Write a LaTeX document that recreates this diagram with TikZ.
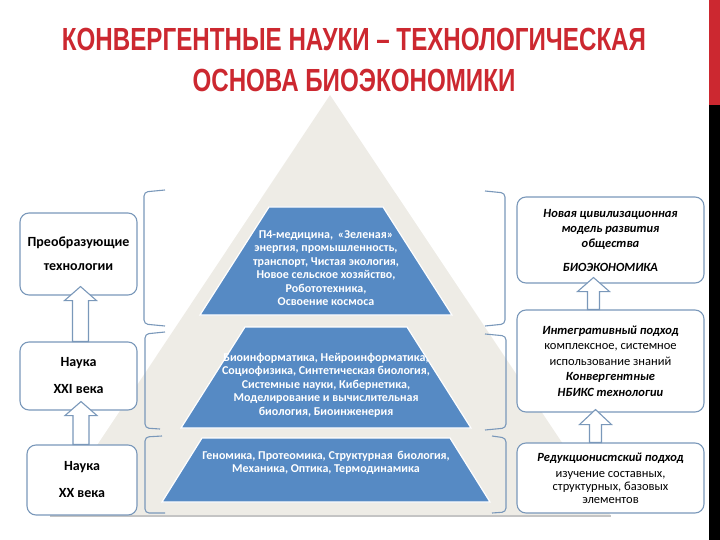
\documentclass[tikz,border=0pt]{standalone}
\usepackage{fontspec}
\setmainfont{Carlito}
\newfontfamily\titlefont[FakeStretch=0.755]{Liberation Sans}
\usetikzlibrary{positioning,calc}
\definecolor{titlered}{RGB}{204,40,48}
\definecolor{pyrblue}{RGB}{86,138,196}
\definecolor{boxline}{RGB}{122,152,186}
\definecolor{bggray}{RGB}{238,236,230}
\definecolor{shadowgray}{RGB}{196,196,196}

\begin{document}
\begin{tikzpicture}[x=1pt, y=-1pt]
  \tikzstyle{title}=[text=titlered, font=\titlefont\bfseries\fontsize{32}{38}\selectfont, anchor=base, inner sep=0pt]
  \tikzstyle{box}=[rectangle, draw=boxline, line width=1.1pt, rounded corners=9pt, fill=white, align=center, inner sep=0pt]
  \tikzstyle{lefttext}=[font=\bfseries\fontsize{14}{14}\selectfont]
  \tikzstyle{righttext}=[font=\fontsize{12.5}{15.5}\selectfont]
  \tikzstyle{layer}=[fill=pyrblue, draw=white, line width=1.2pt]
  \tikzstyle{layertext}=[text=white, align=center, font=\bfseries\fontsize{12}{13.5}\selectfont]
  \tikzstyle{brace}=[draw=boxline, line width=1.1pt, rounded corners=4pt]
  \tikzstyle{uparrow}=[draw=boxline, line width=1.1pt, fill=white, line join=miter]
  \useasboundingbox (0,0) rectangle (720,540);

  % side strip
  \fill[titlered] (709,0) rectangle (720,105);
  \fill[black] (709,105) rectangle (720,540);

  % title
  \node[title] (title1) at (354,51) {КОНВЕРГЕНТНЫЕ НАУКИ – ТЕХНОЛОГИЧЕСКАЯ};
  \node[title] (title2) at (354,92) {ОСНОВА БИОЭКОНОМИКИ};

  % background pyramid
  \fill[bggray] (330,95) -- (611,516) -- (50,516) -- cycle;
  \draw[shadowgray, line width=2pt] (50,516) -- (611,516);

  % pyramid layers
  \path[layer] (269,207) -- (383,207) -- (452,315) -- (200,315) -- cycle;
  \path[layer] (245,327) -- (407,327) -- (471,428) -- (181,428) -- cycle;
  \path[layer] (202,438) -- (450,438) -- (490,502) -- (162,502) -- cycle;
  \node[layertext] (tech) at (326,268) {П4-медицина,\, «Зеленая»\\энергия, промышленность,\\транспорт, Чистая экология,\\Новое сельское хозяйство,\\Робототехника,\\Освоение космоса};
  \node[layertext] (conv) at (326,385) {Биоинформатика, Нейроинформатика,\\Социофизика, Синтетическая биология,\\Системные науки, Кибернетика,\\Моделирование и вычислительная\\биология, Биоинженерия};
  \node[layertext] (basic) at (326,463) {Геномика, Протеомика, Структурная\, биология,\\Механика, Оптика, Термодинамика};

  % brackets
  \draw[brace] (165,190) -- (144,192) -- (144,324) -- (165,326);
  \draw[brace] (165,332) -- (145,334) -- (145,428) -- (160,429);
  \draw[brace] (162,436) -- (145,437) -- (145,513) -- (165,513);
  \draw[brace] (485,191) -- (505,193) -- (505,324) -- (485,326);
  \draw[brace] (485,334) -- (506,336) -- (506,428) -- (485,430);
  \draw[brace] (492,436) -- (506,438) -- (506,512) -- (492,513);

  % left column
  \node[box, lefttext, minimum width=117pt, minimum height=82pt] (lt1) at (78.5,254) {Преобразующие\\[10pt]технологии};
  \node[box, lefttext, minimum width=117pt, minimum height=68pt] (lt2) at (78.5,376) {Наука\\[13pt]XXI века};
  \node[box, lefttext, minimum width=110pt, minimum height=70pt] (lt3) at (82,480) {Наука\\[13pt]XX века};

  % right column
  \node[box, font=\bfseries\itshape\fontsize{12.5}{15}\selectfont, minimum width=187pt, minimum height=86pt] (rt1) at (610.5,240) {Новая цивилизационная\\модель развития\\общества\\[9pt]БИОЭКОНОМИКА};
  \node[box, righttext, minimum width=187pt, minimum height=102pt] (rt2) at (610.5,361) {\textbf{\textit{Интегративный подход}}\\комплексное, системное\\использование знаний\\\textbf{\textit{Конвергентные}}\\\textbf{\textit{НБИКС технологии}}};
  \node[box, font=\fontsize{12.5}{13}\selectfont, minimum width=187pt, minimum height=70pt] (rt3) at (610.5,478) {\textbf{\textit{Редукционистский подход}}\\[3pt]изучение составных,\\структурных, базовых\\элементов};

  % arrows
  \draw[uparrow] let \p1=($(lt2.north)+(2,0)$), \p2=(lt1.south) in
    (\x1-8pt,\y1) -- (\x1-8pt,\y2-5pt) -- (\x1-16pt,\y2-5pt) -- (\x1,\y2+9pt)
    -- (\x1+16pt,\y2-5pt) -- (\x1+8pt,\y2-5pt) -- (\x1+8pt,\y1) -- cycle;
  \draw[uparrow] let \p1=($(lt3.north)+(-1,0)$), \p2=(lt2.south) in
    (\x1-8pt,\y1) -- (\x1-8pt,\y2-5pt) -- (\x1-16pt,\y2-5pt) -- (\x1,\y2+9pt)
    -- (\x1+16pt,\y2-5pt) -- (\x1+8pt,\y2-5pt) -- (\x1+8pt,\y1) -- cycle;
  \draw[uparrow] let \p1=($(rt2.north)+(-17,0)$), \p2=(rt1.south) in
    (\x1-6pt,\y1) -- (\x1-6pt,\y2-8pt) -- (\x1-16pt,\y2-8pt) -- (\x1,\y2+6pt)
    -- (\x1+16pt,\y2-8pt) -- (\x1+6pt,\y2-8pt) -- (\x1+6pt,\y1) -- cycle;
  \draw[uparrow] let \p1=($(rt3.north)+(-15,0)$), \p2=(rt2.south) in
    (\x1-6pt,\y1) -- (\x1-6pt,\y2-12pt) -- (\x1-16pt,\y2-12pt) -- (\x1,\y2+3pt)
    -- (\x1+16pt,\y2-12pt) -- (\x1+6pt,\y2-12pt) -- (\x1+6pt,\y1) -- cycle;
\end{tikzpicture}
\end{document}
